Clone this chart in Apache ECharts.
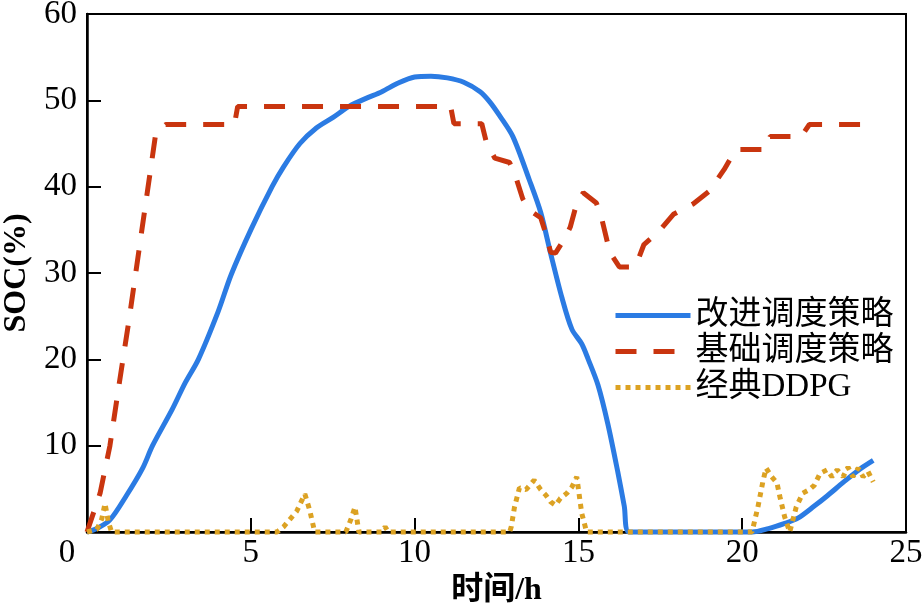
<!DOCTYPE html>
<html>
<head>
<meta charset="utf-8">
<script src="https://cdn.jsdelivr.net/npm/echarts@6/dist/echarts.min.js"></script>
<style>
  html, body { margin: 0; padding: 0; background: #fff; }
  #chart { width: 924px; height: 608px; }
</style>
</head>
<body>
<div id="chart"></div>
<script>
// 改进调度策略
var improvedX = [0, 0.3, 0.7, 1.2, 1.7, 2.0, 2.6, 3.0, 3.4, 4.0, 4.4, 5.0, 5.65, 6.0, 6.5, 7.0, 7.5, 8.0, 8.5, 9.0, 9.5, 10.0, 10.5, 11.0, 11.5, 12.0, 12.3, 12.6, 13.0, 13.5, 13.85, 14.15, 14.5, 14.8, 15.1, 15.3, 15.6, 15.9, 16.2, 16.4, 16.55, 20.3, 20.8, 21.3, 21.7, 22.2, 22.6, 23.1, 23.6, 24.0];
var improvedY = [0, 0.4, 1.4, 4.2, 7.4, 10.0, 14.2, 17.3, 20.0, 25.5, 29.8, 35.0, 40.0, 42.3, 45.0, 46.8, 48.0, 49.3, 50.2, 51.0, 52.0, 52.7, 52.8, 52.6, 52.1, 51.0, 49.8, 48.2, 45.8, 40.8, 37.0, 32.3, 27.1, 23.5, 21.8, 20.0, 17.0, 12.5, 7.0, 3.0, 0, 0, 0.4, 1.0, 1.6, 3.0, 4.2, 5.8, 7.3, 8.3];

// 基础调度策略
var basicX = [0, 0.4, 0.7, 1.0, 1.3, 1.6, 1.85, 2.1, 2.4, 4.5, 4.6, 11.1, 11.2, 12.05, 12.2, 12.45, 12.9, 13.1, 13.3, 13.5, 13.85, 14.05, 14.15, 14.3, 14.55, 14.75, 14.95, 15.15, 15.55, 15.7, 15.87, 15.96, 16.25, 16.7, 16.8, 17.0, 17.45, 17.9, 18.5, 19.0, 19.45, 19.8, 20.7, 20.85, 21.8, 22.05, 24.0];
var basicY = [0, 4.5, 10.0, 17.6, 25.0, 33.0, 39.6, 46.2, 47.2, 47.2, 49.3, 49.3, 47.3, 47.3, 45.0, 43.3, 42.8, 41.0, 38.6, 37.3, 36.4, 34.0, 32.4, 32.3, 33.8, 35.3, 38.1, 39.3, 38.1, 36.5, 33.8, 32.4, 30.7, 30.7, 31.3, 33.3, 34.8, 36.8, 38.0, 39.5, 42.0, 44.3, 44.3, 45.8, 45.8, 47.2, 47.2];

// 经典DDPG
var ddpgX = [0, 0.3, 0.45, 0.55, 0.65, 0.75, 5.8, 6.0, 6.2, 6.4, 6.55, 6.65, 6.8, 6.95, 7.9, 8.05, 8.18, 8.3, 9.0, 9.1, 9.2, 12.9, 12.95, 13.05, 13.2, 13.4, 13.65, 13.85, 14.0, 14.15, 14.3, 14.45, 14.65, 14.8, 14.95, 15.1, 15.25, 20.3, 20.48, 20.64, 20.73, 20.9, 21.06, 21.15, 21.3, 21.45, 21.65, 21.85, 22.05, 22.2, 22.38, 22.59, 22.74, 22.9, 23.08, 23.23, 23.38, 23.54, 23.69, 23.84, 24.0];
var ddpgY = [0, 0.3, 1.5, 3.3, 1.2, 0, 0, 0.6, 1.5, 2.4, 3.6, 4.4, 2.5, 0, 0, 1.4, 2.9, 0, 0, 0.6, 0, 0, 0.6, 2.9, 5.1, 4.9, 6.0, 4.9, 4.3, 3.5, 3.1, 3.9, 4.5, 5.2, 6.4, 2.2, 0, 0, 2.9, 6.0, 7.4, 6.4, 5.7, 4.1, 1.7, 0, 2.9, 4.5, 4.9, 5.4, 6.8, 7.2, 6.4, 7.2, 6.4, 7.5, 6.4, 7.4, 6.4, 7.0, 5.8];

var seriesNames = ['改进调度策略', '基础调度策略', '经典DDPG'];

function pairs(xs, ys) {
  return xs.map(function (x, i) { return [x, ys[i]] })
}

var font = 'Liberation Serif, Times New Roman, Noto Sans CJK SC, serif';

var chart = echarts.init(document.getElementById('chart'), null, { renderer: 'canvas' });

chart.setOption({
  animation: false,
  backgroundColor: '#fff',
  textStyle: { fontFamily: font, color: '#000' },
  grid: {
    left: 87,
    right: 18,
    top: 14,
    bottom: 76,
    outerBoundsMode: 'none',
    containLabel: false,
    show: true,
    borderColor: '#000',
    borderWidth: 2
  },
  legend: {
    data: seriesNames,
    orient: 'vertical',
    left: 608,
    top: 294,
    itemWidth: 75,
    itemHeight: 14,
    itemGap: 3,
    itemStyle: { opacity: 0 },
    lineStyle: { width: 5, cap: 'butt' },
    textStyle: { fontFamily: font, fontSize: 33, color: '#000', lineHeight: 32 }
  },
  xAxis: {
    type: 'value',
    min: 0,
    max: 25,
    interval: 5,
    name: '时间/h',
    nameLocation: 'middle',
    nameGap: 38,
    nameTextStyle: { fontFamily: font, fontSize: 32, fontWeight: 'bold', color: '#000' },
    axisLine: { show: true, lineStyle: { color: '#000', width: 2.5 } },
    axisTick: { show: true, inside: true, length: 14, lineStyle: { color: '#000', width: 2 } },
    axisLabel: {
      fontFamily: font,
      fontSize: 33,
      color: '#000',
      margin: 5,
      formatter: function (v) { return v === 0 ? '{z|0}' : String(v) },
      rich: { z: { fontFamily: font, fontSize: 33, color: '#000', padding: [0, 40, 0, 0] } }
    },
    splitLine: { show: false }
  },
  yAxis: {
    type: 'value',
    min: 0,
    max: 60,
    interval: 10,
    name: 'SOC(%)',
    nameLocation: 'middle',
    nameGap: 52,
    nameTextStyle: { fontFamily: font, fontSize: 32, fontWeight: 'bold', color: '#000' },
    axisLine: { show: true, lineStyle: { color: '#000', width: 2.5 } },
    axisTick: { show: true, inside: true, length: 14, lineStyle: { color: '#000', width: 2 } },
    axisLabel: {
      fontFamily: font,
      fontSize: 33,
      color: '#000',
      margin: 10,
      formatter: function (v) { return v === 0 ? '' : String(v) }
    },
    splitLine: { show: false }
  },
  series: [{
    name: seriesNames[0],
    type: 'line',
    data: pairs(improvedX, improvedY),
    smooth: 0.3,
    symbol: 'none',
    clip: false,
    lineStyle: { color: '#2b7be3', width: 5 },
    itemStyle: { color: '#2b7be3' },
    z: 2
  },
  {
    name: seriesNames[1],
    type: 'line',
    data: pairs(basicX, basicY),
    symbol: 'none',
    clip: false,
    lineStyle: { color: '#c9350f', width: 5, type: [21, 17], cap: 'butt' },
    itemStyle: { color: '#c9350f' },
    z: 3
  },
  {
    name: seriesNames[2],
    type: 'line',
    data: pairs(ddpgX, ddpgY),
    symbol: 'none',
    clip: false,
    lineStyle: { color: '#dca223', width: 5, type: [5, 5], cap: 'butt' },
    itemStyle: { color: '#dca223' },
    z: 4
  }]
});
</script>
</body>
</html>
